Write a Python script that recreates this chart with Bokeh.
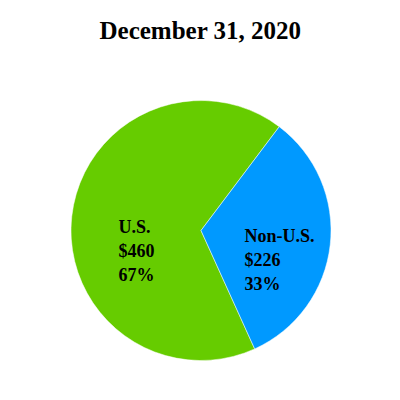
from bokeh.plotting import figure
from bokeh.models import Range1d, ColumnDataSource
from bokeh.embed import file_html
from bokeh.resources import INLINE
from bokeh.core.properties import value
import math

# Data
title_text = "December 31, 2020"
regions = ["U.S.", "Non-U.S."]
amounts = [460, 226]
percents = ["67%", "33%"]
colors = ["#66CC00", "#0099FF"]

# Layout / style constants (frame spans the whole canvas, data y = 400 - pixel y)
W, H = 384, 384
cx, cy, R = 200.5, 400 - 230, 130
start_deg = 53.0
title_pos = (200, 400 - 29.5)
label_pos = [(118, 400 - 226), (244, 400 - 235)]
line_gap = 24

total = sum(amounts)
starts, ends = [], []
a = math.radians(start_deg)
for amt in amounts:
    span = 2 * math.pi * amt / total
    starts.append(a)
    ends.append(a + span)
    a += span

src = ColumnDataSource(dict(start=starts, end=ends, color=colors, region=regions))

p = figure(width=W, height=H, output_backend="svg", toolbar_location=None,
           x_range=Range1d(0, W), y_range=Range1d(400 - H, 400),
           min_border=0)
p.axis.visible = False
p.grid.visible = False
p.outline_line_color = None
p.background_fill_color = "white"
p.border_fill_color = "white"

p.wedge(x=cx, y=cy, radius=R, start_angle="start", end_angle="end",
        color="color", line_color="white", line_width=0.5, source=src)

# Title
p.text(x=[title_pos[0]], y=[title_pos[1]], text=[title_text],
       text_font=value("Liberation Serif"), text_font_style="bold",
       text_font_size="25px", text_color="black",
       text_align="center", text_baseline="alphabetic")

tx, ty, tt = [], [], []
for i, (name, amt, pct) in enumerate(zip(regions, amounts, percents)):
    x0, y0 = label_pos[i]
    for j, s in enumerate([name, f"${amt}", pct]):
        tx.append(x0)
        ty.append(y0 - j * line_gap)
        tt.append(s)

p.text(x=tx, y=ty, text=tt, text_font=value("Liberation Serif"),
       text_font_style="bold", text_font_size="18px", text_color="black",
       text_align="left", text_baseline="alphabetic")

open("out.html", "w").write(file_html(p, INLINE))
